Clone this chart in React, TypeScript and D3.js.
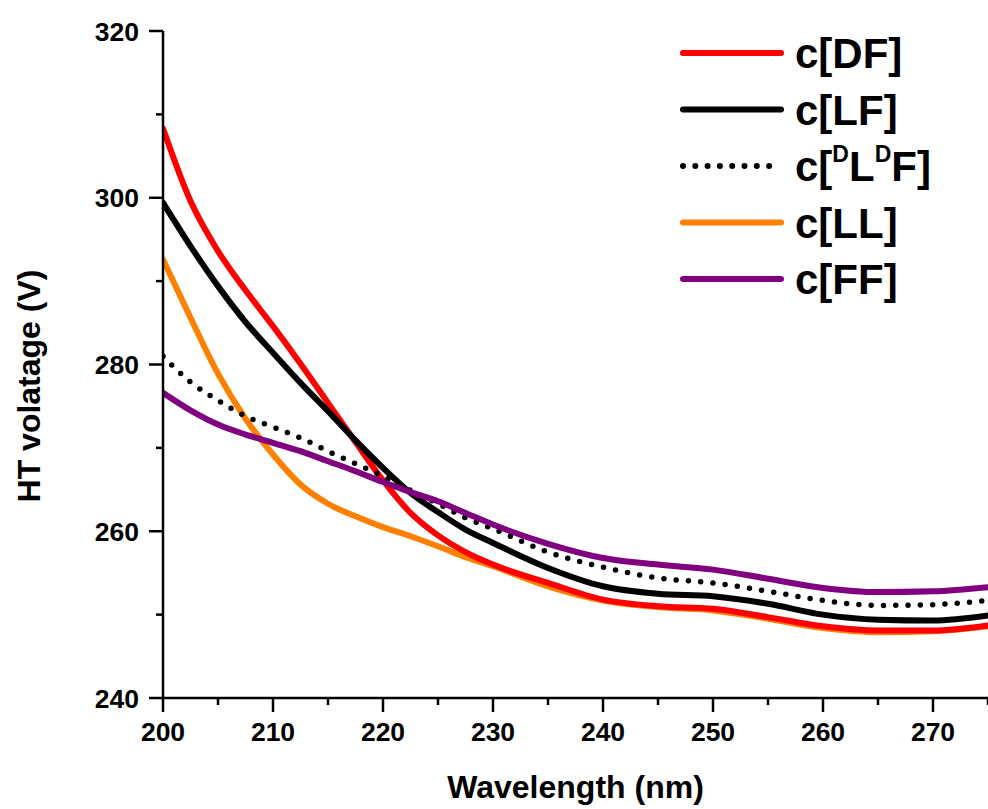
import React from "react";
import * as d3 from "d3";

const wavelengths = [200, 202.5, 205, 207.5, 210, 212.5, 215, 217.5, 220, 222.5, 225, 227.5, 230, 235, 240, 245, 250, 255, 260, 265, 270, 275];
const seriesDF = [308.3, 299.6, 293.6, 288.9, 284.6, 280.1, 275.4, 270.7, 266.1, 262.2, 259.5, 257.5, 256.0, 253.8, 251.8, 251.0, 250.7, 249.7, 248.6, 248.1, 248.1, 248.7];
const seriesLF = [299.4, 294.2, 289.4, 285.1, 281.4, 277.8, 274.4, 270.9, 267.6, 264.6, 262.3, 260.2, 258.6, 255.6, 253.4, 252.5, 252.2, 251.3, 250.0, 249.4, 249.3, 249.9];
const seriesDLDF = [281.0, 277.9, 275.7, 273.8, 272.5, 271.2, 269.6, 268.1, 266.6, 264.9, 263.3, 261.6, 260.3, 257.5, 255.7, 254.4, 253.8, 252.8, 251.7, 251.1, 251.2, 251.7];
const seriesLL = [292.6, 285.6, 278.9, 273.5, 269.2, 265.6, 263.3, 261.8, 260.5, 259.4, 258.2, 256.9, 255.8, 253.4, 251.7, 250.9, 250.5, 249.5, 248.4, 247.9, 248.0, 248.6];
const seriesFF = [276.6, 274.5, 272.8, 271.6, 270.6, 269.6, 268.4, 267.2, 265.9, 264.7, 263.6, 262.2, 260.8, 258.5, 256.8, 256.0, 255.4, 254.3, 253.2, 252.7, 252.8, 253.3];

const xMajorTicks = [200, 210, 220, 230, 240, 250, 260, 270];
const xMinorTicks = [205, 215, 225, 235, 245, 255, 265, 275];
const yMajorTicks = [240, 260, 280, 300, 320];
const yMinorTicks = [250, 270, 290, 310];

const FONT = "'Liberation Sans', Arial, Helvetica, sans-serif";

const series = [
  { key: "DF", values: seriesDF, color: "#FF0000", dotted: false },
  { key: "LF", values: seriesLF, color: "#000000", dotted: false },
  { key: "DLDF", values: seriesDLDF, color: "#000000", dotted: true },
  { key: "LL", values: seriesLL, color: "#FF8000", dotted: false },
  { key: "FF", values: seriesFF, color: "#800080", dotted: false },
];
const drawOrder = ["LL", "DF", "DLDF", "LF", "FF"];

export default function App() {
  const W = 988, H = 809;
  const x = d3.scaleLinear().domain([200, 275]).range([163, 988]);
  const y = d3.scaleLinear().domain([240, 320]).range([698, 31]);
  const line = d3
    .line<[number, number]>()
    .x((d) => x(d[0]))
    .y((d) => y(d[1]))
    .curve(d3.curveMonotoneX);

  const legendY0 = 53;
  const legendStep = 56.5;

  return (
    <svg width={W} height={H} style={{ position: "absolute", left: 0, top: 0, background: "#fff" }}>
      <rect x={0} y={0} width={W} height={H} fill="#fff" />
      <defs>
        <clipPath id="plot">
          <rect x={163} y={20} width={830} height={678} />
        </clipPath>
      </defs>
      <g clipPath="url(#plot)">
        {drawOrder.map((k) => {
          const s = series.find((q) => q.key === k)!;
          const pts = wavelengths.map((w, i) => [w, s.values[i]] as [number, number]);
          return (
            <path
              key={k}
              d={line(pts) || ""}
              fill="none"
              stroke={s.color}
              strokeWidth={s.dotted ? 5.5 : 6}
              strokeLinecap="round"
              strokeLinejoin="round"
              strokeDasharray={s.dotted ? "0 12.3" : undefined}
            />
          );
        })}
      </g>
      {/* axes */}
      <line x1={163} x2={163} y1={31} y2={699} stroke="#000" strokeWidth={2.5} />
      <line x1={162} x2={988} y1={698} y2={698} stroke="#000" strokeWidth={2.5} />
      {yMajorTicks.map((t) => (
        <g key={"ym" + t}>
          <line x1={149} x2={163} y1={y(t)} y2={y(t)} stroke="#000" strokeWidth={2.5} />
          <text x={139} y={y(t)} dy="0.36em" textAnchor="end" fontFamily={FONT} fontWeight="bold" fontSize={26.5}>
            {t}
          </text>
        </g>
      ))}
      {yMinorTicks.map((t) => (
        <line key={"yn" + t} x1={156} x2={163} y1={y(t)} y2={y(t)} stroke="#000" strokeWidth={2.5} />
      ))}
      {xMajorTicks.map((t) => (
        <g key={"xm" + t}>
          <line x1={x(t)} x2={x(t)} y1={698} y2={712} stroke="#000" strokeWidth={2.5} />
          <text x={x(t)} y={741} textAnchor="middle" fontFamily={FONT} fontWeight="bold" fontSize={26.5}>
            {t}
          </text>
        </g>
      ))}
      {xMinorTicks.map((t) => (
        <line key={"xn" + t} x1={x(t)} x2={x(t)} y1={698} y2={705} stroke="#000" strokeWidth={2.5} />
      ))}
      <text x={575.5} y={798} textAnchor="middle" fontFamily={FONT} fontWeight="bold" fontSize={32}>
        Wavelength (nm)
      </text>
      <text
        transform={`translate(39.5,386) rotate(-90)`}
        textAnchor="middle"
        fontFamily={FONT}
        fontWeight="bold"
        fontSize={32}
      >
        HT volatage (V)
      </text>
      {/* legend */}
      {series.map((s, i) => {
        const ly = legendY0 + i * legendStep;
        return (
          <g key={"lg" + s.key}>
            <line
              x1={683}
              x2={s.dotted ? 770 : 781}
              y1={ly}
              y2={ly}
              stroke={s.color}
              strokeWidth={6}
              strokeLinecap="round"
              strokeDasharray={s.dotted ? "0 12.3" : undefined}
            />
            <text x={795} y={ly + 15} fontFamily={FONT} fontWeight="bold" fontSize={42}>
              {s.key === "DLDF" ? (
                <>
                  c[
                  <tspan fontSize={23} dy={-19}>D</tspan>
                  <tspan dy={19}>L</tspan>
                  <tspan fontSize={23} dy={-19}>D</tspan>
                  <tspan dy={19}>F]</tspan>
                </>
              ) : (
                `c[${s.key}]`
              )}
            </text>
          </g>
        );
      })}
    </svg>
  );
}
